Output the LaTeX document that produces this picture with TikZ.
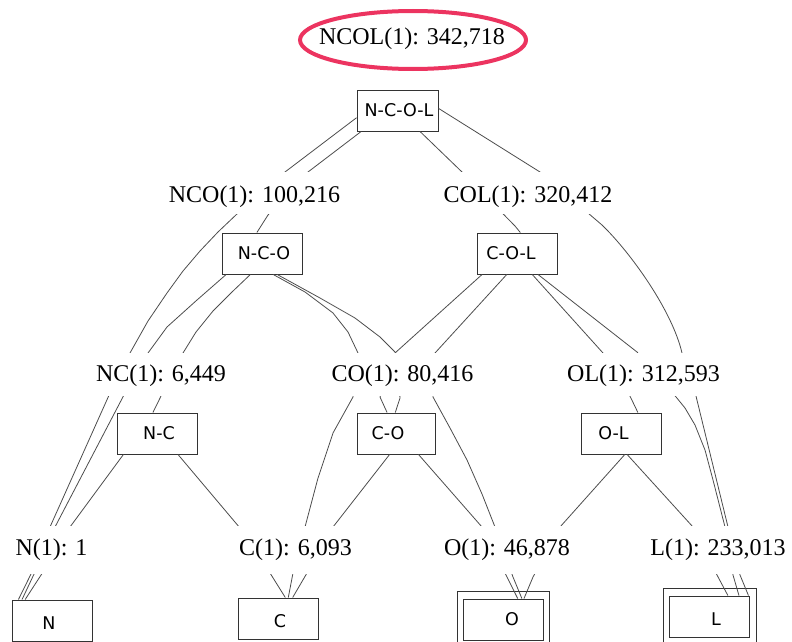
\documentclass[tikz,border=0pt]{standalone}
\usepackage{fontspec}
\newfontfamily\lblfont{Liberation Serif}
\newfontfamily\boxfont{DejaVu Sans}
\definecolor{hilite}{RGB}{236,52,96}
\begin{document}
\begin{tikzpicture}[x=1pt,y=-1pt,
  edge/.style={draw=black!70, line width=0.8pt, line join=round},
  itembox/.style={draw=black!80, line width=0.95pt, fill=white, minimum width=80pt, minimum height=41pt, inner sep=0pt},
  boxtxt/.style={font=\boxfont\fontsize{17.5}{20}\selectfont, inner sep=0pt},
  outerbox/.style={draw=black!80, line width=0.95pt, inner sep=0pt},
  cnt/.style={font=\lblfont\fontsize{24}{28}\selectfont, fill=white, inner xsep=3pt, inner ysep=1pt, anchor=base},
  rowA/.style={cnt, text height=29.5pt, text depth=10.5pt},
  rowB/.style={cnt, text height=27pt, text depth=14pt},
  rowC/.style={cnt, text height=28pt, text depth=18pt}]
\useasboundingbox (0,0) rectangle (792,642);
\clip (0,0) rectangle (792,642);

% item boxes
\node[itembox, minimum width=81pt, label={[boxtxt,xshift=1.5pt]center:N-C-O-L}] (ncol) at (397.5,110.5) {};
\node[itembox, label={[boxtxt,xshift=1.5pt]center:N-C-O}] (nco) at (262.5,253.5) {};
\node[itembox, label={[boxtxt,xshift=-6pt]center:C-O-L}] (col) at (517,253.5) {};
\node[itembox, label={[boxtxt,xshift=2pt]center:N-C}] (nc) at (157,433.5) {};
\node[itembox, minimum width=78pt, label={[boxtxt,xshift=-8pt]center:C-O}] (co) at (396,433.5) {};
\node[itembox, label={[boxtxt,xshift=-8pt]center:O-L}] (ol) at (621.5,433.5) {};
\node[itembox, label={[boxtxt,xshift=-3pt,yshift=-2.5pt]center:N}] (n) at (52,620.5) {};
\node[itembox, label={[boxtxt,xshift=1.5pt,yshift=-2.5pt]center:C}] (c) at (278.5,618.5) {};
\node[itembox, label={[boxtxt,xshift=9pt]center:O}] (o) at (503,619.5) {};
\node[itembox, label={[boxtxt,xshift=7pt,yshift=-2.5pt]center:L}] (l) at (709,616.5) {};
\node[outerbox, minimum width=92pt, minimum height=58pt] (oframe) at (503,620) {};
\node[outerbox, minimum width=93pt, minimum height=58pt] (lframe) at (709.5,617) {};

% connectors (drawn behind the count labels)
\path[edge] (ncol.190.5) -- (285,172) -- (238,213) -- (218,232) -- (200,251) -- (183,271) -- (167,293) -- (148,321) -- (130,353) -- (110,393) -- (50,527) -- (32,572) -- (n.148.9);
\path[edge] (ncol.210) -- (308,172) -- (268,215) -- (nco.105);
\path[edge] (ncol.317.7) -- (462,172) -- (515,226) -- (col.81.7);
\path[edge] (ncol.3.5) -- (540,172) -- (602,225) .. controls (630,252) and (672,310) .. (682,353) -- (695,392) -- (728,527) -- (740,575) -- (l.28.3);
\path[edge] (nco.210.7) -- (197,300) -- (167,327) -- (148,353) -- (125,393) -- (55,527) -- (35,572) -- (n.145.6);
\path[edge] (nco.240.7) -- (232,292) -- (213,311) -- (196,332) -- (183,353) -- (163,392) -- (nc.101);
\path[edge] (nco.297.1) -- (305,292) -- (333,313) -- (348,332) -- (358,353) -- (353,397) -- (333,433) -- (318,478) -- (305,527) -- (293,573) -- (c.65.1);
\path[edge] (nco.305.3) -- (320,298) -- (355,318) -- (380,337) -- (396,353) -- (400,398) -- (co.92.8);
\path[edge] (nc.212.6) -- (70,527) -- (43,572) -- (n.142.8);
\path[edge] (nc.315.7) -- (240,528) -- (270,573) -- (c.72.4);
\path[edge] (col.211.1) -- (395,353) -- (380,397) -- (co.113.7);
\path[edge] (col.244) -- (435,353) -- (433,397) -- (450,428) -- (467,460) -- (482,494) -- (495,527) -- (513,577) -- (o.48.7);
\path[edge] (col.306.2) -- (603,353) -- (628,392) -- (ol.52.9);
\path[edge] (col.315.7) -- (637,352) -- (672,392) -- (685,408) -- (695,425) -- (705,450) -- (713,480) -- (725,527) -- (733,575) -- (l.35.3);
\path[edge] (co.253.7) -- (333,527) -- (307,573) -- (c.56.6);
\path[edge] (co.317) -- (482,527) -- (507,577) -- (o.55.7);
\path[edge] (ol.279.7) -- (560,527) -- (533,577) -- (o.45.7);
\path[edge] (ol.285) -- (693,527) -- (717,575) -- (l.48.7);

% count labels (white, covering the connectors)
\node[font=\lblfont\fontsize{24}{28}\selectfont, inner sep=0pt, text height=15.9pt, text depth=0pt] (ncolcount) at (412,37) {NCOL(1): 342,718};
\draw[hilite, line width=4pt] (ncolcount.center) ++(1,3) ellipse [x radius=113pt, y radius=29pt];
\node[rowA] (ncocount) at (254.5,202.5) {NCO(1): 100,216};
\node[rowA] (colcount) at (528,202.5) {COL(1): 320,412};
\node[rowB] (nccount) at (161,381) {NC(1): 6,449};
\node[rowB] (cocount) at (402.5,381) {CO(1): 80,416};
\node[rowB] (olcount) at (643.5,381) {OL(1): 312,593};
\node[rowC] (ncount) at (51.5,555) {N(1): 1};
\node[rowC] (ccount) at (295.5,555) {C(1): 6,093};
\node[rowC] (ocount) at (507,555) {O(1): 46,878};
\node[rowC] (lcount) at (718,555) {L(1): 233,013};
\end{tikzpicture}
\end{document}
